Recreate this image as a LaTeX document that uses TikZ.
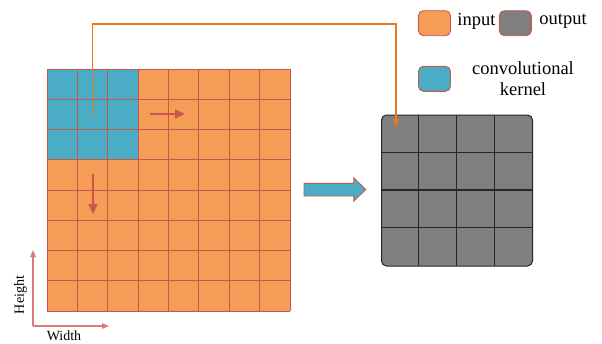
\documentclass[tikz,border=0pt]{standalone}
\usepackage{fontspec}
\setmainfont{Liberation Serif}
\usetikzlibrary{arrows.meta}
\definecolor{inorange}{HTML}{F59D56}
\definecolor{gridred}{HTML}{C9554C}
\definecolor{kblue}{HTML}{4BACC6}
\definecolor{outgray}{HTML}{7F7F7F}
\definecolor{linkorange}{HTML}{E8771E}
\definecolor{axisred}{HTML}{DC7A78}
\tikzset{
  legbox/.style={draw=gridred, line width=0.9pt, rounded corners=5pt, minimum width=32pt, minimum height=25pt, inner sep=0pt},
  legtext/.style={font=\fontsize{18.5}{21}\selectfont, inner sep=0pt, align=center},
  movearrow/.style={draw=gridred, line width=1.6pt, -{Triangle[length=10pt,width=9pt]}},
  axisarrow/.style={draw=axisred, line width=1.2pt, -{Triangle[length=7pt,width=5.5pt]}},
  axistext/.style={font=\fontsize{14}{16}\selectfont, inner sep=0pt}
}
\begin{document}
\begin{tikzpicture}[x=1pt,y=-1pt]
\useasboundingbox (0,0) rectangle (602,343);
% input grid
\node[fill=inorange, minimum width=243pt, minimum height=242pt, inner sep=0pt, anchor=north west] (inp) at (47,69) {};
\node[fill=kblue, minimum width=91pt, minimum height=91pt, inner sep=0pt, anchor=north west] (kern) at (47,69) {};
\foreach \i in {0,...,8} {
  \draw[gridred, line width=1pt] (47+\i*30.375,69) -- (47+\i*30.375,311);
  \draw[gridred, line width=1pt] (47,69+\i*30.25) -- (290,69+\i*30.25);
}
% movement arrows
\coordinate (rs) at (150,114);
\coordinate (re) at (185,114);
\coordinate (ds) at (93,174);
\coordinate (de) at (93,214);
\draw[movearrow] (rs) -- (re);
\draw[movearrow] (ds) -- (de);
% output grid
\node[fill=outgray, draw=black!85, line width=1pt, rounded corners=5pt, minimum width=151pt, minimum height=151pt, inner sep=0pt, anchor=north west] (outp) at (381,114.5) {};
\foreach \i in {1,2,3} {
  \draw[black!85, line width=1.1pt] (381+\i*37.75,114.5) -- (381+\i*37.75,265.5);
  \draw[black!85, line width=1.1pt] (381,114.5+\i*37.75) -- (532,114.5+\i*37.75);
}
% link
\coordinate (ltip) at (396,127);
\draw[linkorange, line width=1.3pt, -{Triangle[length=8pt,width=6.5pt]}] (kern.center) -- (kern.center |- 0,24) -- (396,24) -- (ltip);
% block arrow
\draw[fill=kblue, draw=gridred, line width=0.9pt] (304,183.3) -- (353.7,183.3) -- (353.7,177.7) -- (365.7,189.5) -- (353.7,201.3) -- (353.7,196) -- (304,196) -- cycle;
% legend
\node[legbox, fill=inorange] (lin) at (434.5,23.2) {};
\node[legtext] (tin) at (476.5,21) {input};
\node[legbox, fill=outgray] (lout) at (515.3,23.2) {};
\node[legtext] (tout) at (563,21) {output};
\node[legbox, fill=kblue] (lker) at (434.5,78.8) {};
\node[legtext] (tker) at (523,79) {convolutional\\kernel};
% axes
\coordinate (org) at (33,326);
\coordinate (hup) at (33,250);
\coordinate (wri) at (109,326);
\draw[axisarrow] (org) -- (hup);
\draw[axisarrow] (org) -- (wri);
\node[axistext] (wt) at (64,336) {Width};
\node[axistext, rotate=90] (ht) at (20.5,295) {Height};
\end{tikzpicture}
\end{document}
